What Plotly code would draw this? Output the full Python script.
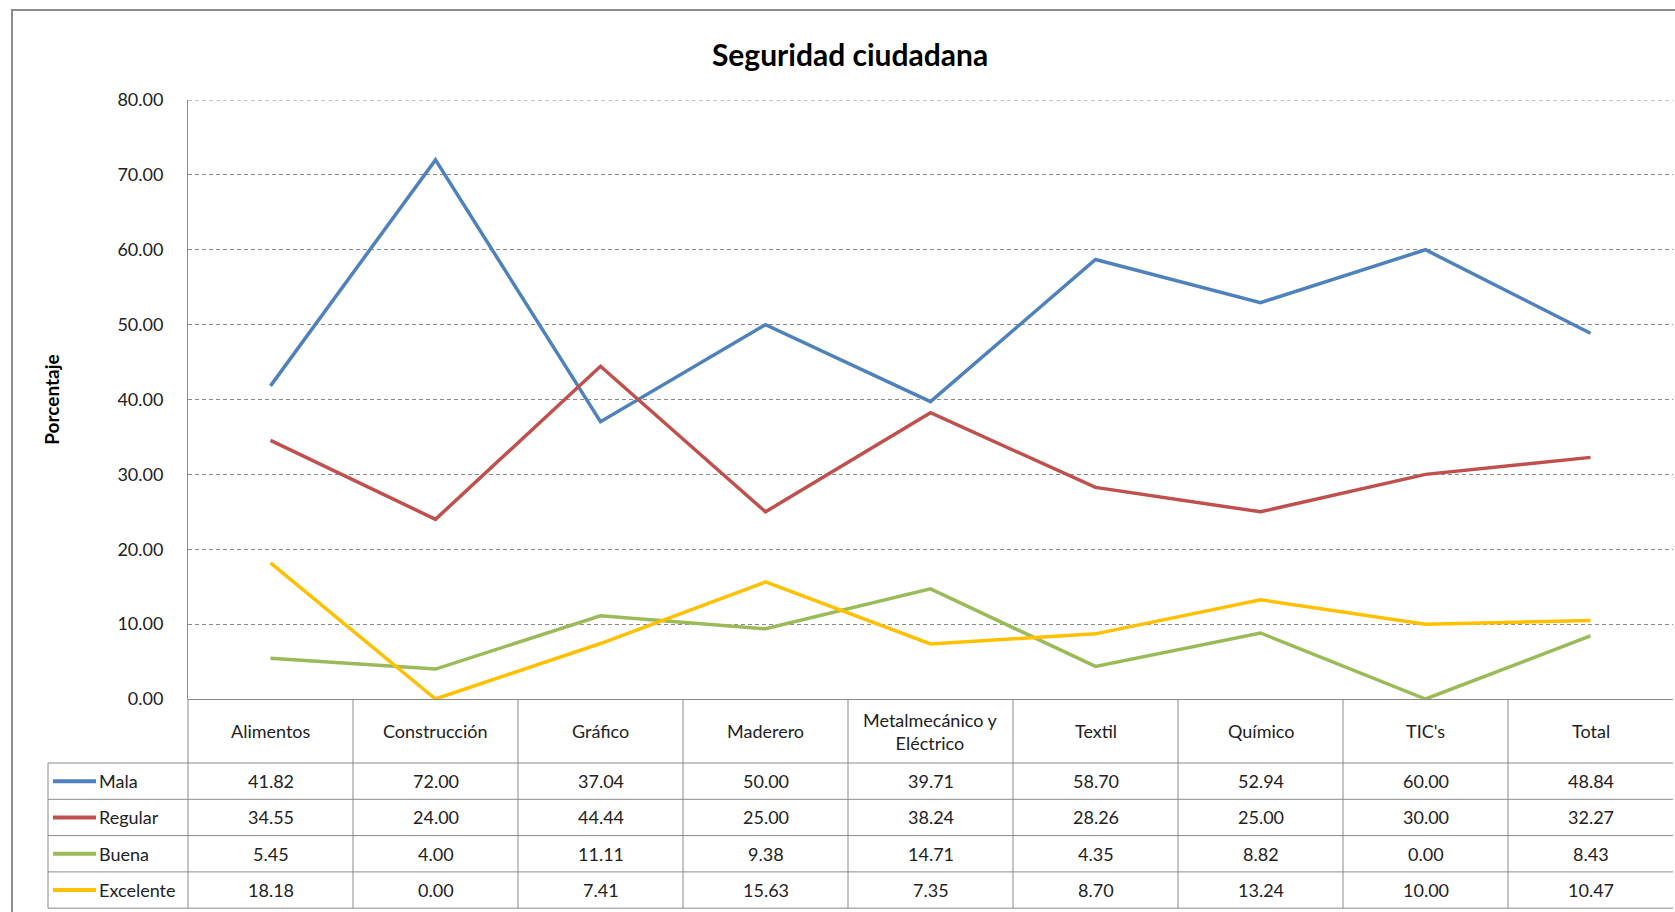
import plotly.graph_objects as go

# ---- data -------------------------------------------------------------
categories = ["Alimentos", "Construcción", "Gráfico", "Maderero",
              "Metalmecánico y<br>Eléctrico", "Textil", "Químico", "TIC's", "Total"]
series_names = ["Mala", "Regular", "Buena", "Excelente"]
mala = [41.82, 72.00, 37.04, 50.00, 39.71, 58.70, 52.94, 60.00, 48.84]
regular = [34.55, 24.00, 44.44, 25.00, 38.24, 28.26, 25.00, 30.00, 32.27]
buena = [5.45, 4.00, 11.11, 9.38, 14.71, 4.35, 8.82, 0.00, 8.43]
excelente = [18.18, 0.00, 7.41, 15.63, 7.35, 8.70, 13.24, 10.00, 10.47]
y_ticks = [0, 10, 20, 30, 40, 50, 60, 70, 80]

series_values = [mala, regular, buena, excelente]
colors = ["#4F81BD", "#C0504D", "#9BBB59", "#FFC000"]

# ---- layout geometry (pixels) ----------------------------------------
W_FIG, H_FIG = 1675, 912
M_L, M_R, M_T, M_B = 188, 2, 100, 213
PLOT_W = W_FIG - M_L - M_R
PLOT_H = H_FIG - M_T - M_B
FONT = "Lato, 'Open Sans', sans-serif"
GRID = "#8a8a8a"
GRID_DASH = "4px,3px"


def px_x(p):
    return (p - M_L) / PLOT_W


def px_y(p):
    return (H_FIG - M_B - p) / PLOT_H


x_idx = list(range(len(categories)))

fig = go.Figure()
for name, vals, col in zip(series_names, series_values, colors):
    fig.add_trace(go.Scatter(x=x_idx, y=vals, mode="lines", name=name,
                             line=dict(color=col, width=3.5), showlegend=False))

# ---- data table under the plot ---------------------------------------
table_top = H_FIG - M_B            # y pixel of the 0 line
header_bottom = 763
row_h = 36.3
legend_left = 48
n_rows = len(series_names)
table_bottom = header_bottom + n_rows * row_h

shapes = []
line_style = dict(color=GRID, width=1)
# dashed top gridline at the range maximum
shapes.append(dict(type="line", xref="paper", yref="y", x0=0, x1=1,
                   y0=y_ticks[-1], y1=y_ticks[-1],
                   line=dict(color=GRID, width=1, dash=GRID_DASH)))
# horizontal rules
shapes.append(dict(type="line", xref="paper", yref="paper",
                   x0=px_x(legend_left), x1=1, y0=px_y(header_bottom), y1=px_y(header_bottom),
                   line=line_style))
for r in range(1, n_rows + 1):
    yy = px_y(header_bottom + r * row_h)
    shapes.append(dict(type="line", xref="paper", yref="paper",
                       x0=px_x(legend_left), x1=1, y0=yy, y1=yy, line=line_style))
# vertical rules
for c in range(1, len(categories)):
    xx = c / len(categories)
    shapes.append(dict(type="line", xref="paper", yref="paper",
                       x0=xx, x1=xx, y0=0, y1=px_y(table_bottom), line=line_style))
shapes.append(dict(type="line", xref="paper", yref="paper",
                   x0=0, x1=0, y0=0, y1=px_y(table_bottom), line=line_style))
shapes.append(dict(type="line", xref="paper", yref="paper",
                   x0=px_x(legend_left), x1=px_x(legend_left),
                   y0=px_y(header_bottom), y1=px_y(table_bottom), line=line_style))
# outer chart frame
shapes.append(dict(type="rect", xref="paper", yref="paper",
                   x0=px_x(12), x1=px_x(1690), y0=px_y(10), y1=px_y(930),
                   line=dict(color="#8c8c8c", width=2)))

annotations = []
header_mid = (table_top + header_bottom) / 2
cell_font = dict(family=FONT, size=18, color="#222")
for i, cat in enumerate(categories):
    annotations.append(dict(x=i, xref="x", y=px_y(header_mid), yref="paper",
                            xanchor="center", yanchor="middle",
                            text=cat, showarrow=False, font=cell_font))
for r, (name, vals, col) in enumerate(zip(series_names, series_values, colors)):
    yc = px_y(header_bottom + (r + 0.5) * row_h)
    for i, v in enumerate(vals):
        annotations.append(dict(x=i, xref="x", y=yc, yref="paper",
                                xanchor="center", yanchor="middle",
                                text=f"{v:.2f}", showarrow=False, font=cell_font))
    # legend key + label
    shapes.append(dict(type="line", xref="paper", yref="paper",
                       x0=px_x(53), x1=px_x(96), y0=yc, y1=yc,
                       line=dict(color=col, width=4)))
    annotations.append(dict(x=px_x(97), xref="paper", y=yc, yref="paper",
                            text=name, showarrow=False, xanchor="left", yanchor="middle",
                            font=cell_font))

fig.update_layout(
    width=W_FIG, height=H_FIG,
    margin=dict(l=M_L, r=M_R, t=M_T, b=M_B),
    paper_bgcolor="white", plot_bgcolor="white",
    title=dict(text="<b>Seguridad ciudadana</b>", x=850 / W_FIG, xanchor="center",
               y=1 - 55 / H_FIG, yanchor="middle",
               font=dict(family=FONT, size=30, color="#000")),
    xaxis=dict(range=[-0.5, len(categories) - 0.5], showticklabels=False,
               showgrid=False, zeroline=False, showline=False, ticks=""),
    yaxis=dict(range=[0, 80], tickvals=y_ticks, tickformat=".2f",
               showgrid=True, gridcolor=GRID, griddash=GRID_DASH, gridwidth=1,
               zeroline=True, zerolinecolor=GRID, zerolinewidth=1,
               showline=True, linecolor=GRID, linewidth=1,
               ticks="", ticklabelstandoff=20,
               tickfont=dict(family=FONT, size=18, color="#222"),
               title=dict(text="<b>Porcentaje</b>", standoff=52,
                          font=dict(family=FONT, size=19, color="#000"))),
    shapes=shapes,
    annotations=annotations,
)

fig.write_html("out.html")
